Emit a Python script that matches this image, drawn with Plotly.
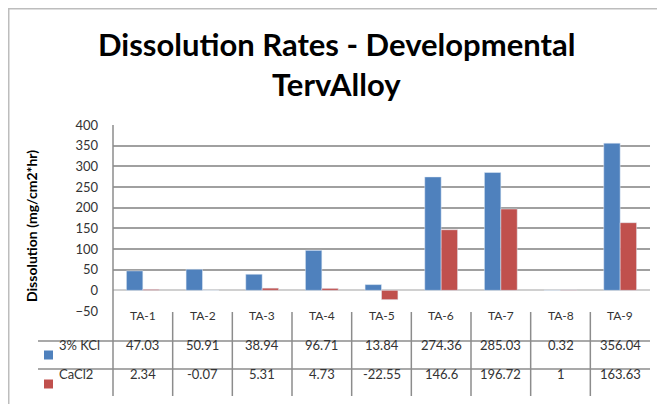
import plotly.graph_objects as go

categories = ["TA-1", "TA-2", "TA-3", "TA-4", "TA-5", "TA-6", "TA-7", "TA-8", "TA-9"]
kcl_name = "3% KCl"
kcl = [47.03, 50.91, 38.94, 96.71, 13.84, 274.36, 285.03, 0.32, 356.04]
cacl_name = "CaCl2"
cacl = [2.34, -0.07, 5.31, 4.73, -22.55, 146.6, 196.72, 1, 163.63]
y_ticks = [-50, 0, 50, 100, 150, 200, 250, 300, 350, 400]
title_lines = ["Dissolution Rates - Developmental", "TervAlloy"]
y_title = "Dissolution (mg/cm2*hr)"

BLUE = "#4F81BD"
RED = "#C0504D"
TXT = "#333333"
FONT = "Lato"

# page has an 8px body margin; work in reference page pixels and shift
OFF = 8
PAGE_W, PAGE_H = 665, 404
W, H = PAGE_W - OFF, PAGE_H - OFF
# plot area in page pixels: x 113..650, y 125..311
PL, PR, PT, PB = 113, 650, 125, 311
L, R, T, B = PL - OFF, W - (PR - OFF), PT - OFF, H - (PB - OFF)
PW, PH = PR - PL, PB - PT


def px(x):
    return (x - PL) / PW


def py(y):
    return (PB - y) / PH


fig = go.Figure()
fig.add_trace(go.Bar(x=categories, y=kcl, name=kcl_name, marker_color=BLUE))
fig.add_trace(go.Bar(x=categories, y=cacl, name=cacl_name, marker_color=RED))

shapes = []
anns = []

# chart area border
shapes.append(dict(type="rect", xref="paper", yref="paper", x0=px(8.5), x1=px(700),
                   y0=py(440), y1=py(8.5), line=dict(color="#BDBDBD", width=2)))
# left axis line through table
shapes.append(dict(type="line", xref="paper", yref="paper", x0=0, x1=0,
                   y0=py(396), y1=1, line=dict(color="#8C8C8C", width=1.5)))
# category dividers in table
for i in range(len(categories) - 1):
    shapes.append(dict(type="line", xref="x", yref="paper", x0=i + 0.5, x1=i + 0.5,
                       y0=py(396), y1=py(312), line=dict(color="#8C8C8C", width=1.5)))
# horizontal table lines
for yy in (341, 369):
    shapes.append(dict(type="line", xref="paper", yref="paper", x0=px(38), x1=1,
                       y0=py(yy), y1=py(yy), line=dict(color="#8C8C8C", width=1.5)))
# legend keys
for yy, col in ((355, BLUE), (384, RED)):
    shapes.append(dict(type="rect", xref="paper", yref="paper", x0=px(44), x1=px(53),
                       y0=py(yy + 4.5), y1=py(yy - 4.5), line=dict(width=0), fillcolor=col))

# title
for txt, yy, sz in ((title_lines[0], 44, 31), (title_lines[1], 84, 31)):
    anns.append(dict(text=f"<b>{txt}</b>", xref="paper", yref="paper", x=px(336), y=py(yy),
                     showarrow=False, xanchor="center", yanchor="middle",
                     font=dict(family=FONT, size=sz, color="#000000")))
# y title
anns.append(dict(text=f"<b>{y_title}</b>", xref="paper", yref="paper", x=px(31), y=py(226),
                 showarrow=False, textangle=-90, xanchor="center", yanchor="middle",
                 font=dict(family=FONT, size=14, color="#000000")))
# table header + values
for i, c in enumerate(categories):
    anns.append(dict(text=c, xref="x", yref="paper", x=i, y=py(325), showarrow=False,
                     font=dict(family=FONT, size=12, color=TXT)))
    anns.append(dict(text=str(kcl[i]), xref="x", yref="paper", x=i, y=py(355), showarrow=False,
                     font=dict(family=FONT, size=13, color=TXT)))
    anns.append(dict(text=str(cacl[i]), xref="x", yref="paper", x=i, y=py(384), showarrow=False,
                     font=dict(family=FONT, size=13, color=TXT)))
for name, yy in ((kcl_name, 355), (cacl_name, 384)):
    anns.append(dict(text=name, xref="paper", yref="paper", x=px(57), y=py(yy), showarrow=False,
                     xanchor="left", font=dict(family=FONT, size=13, color=TXT)))

fig.update_layout(
    width=W, height=H,
    margin=dict(l=L, r=R, t=T, b=B, autoexpand=False),
    paper_bgcolor="white", plot_bgcolor="white",
    showlegend=False,
    barmode="group", bargap=0.45, bargroupgap=0,
    shapes=shapes, annotations=anns,
    font=dict(family=FONT, size=13, color=TXT),
)
fig.update_xaxes(showticklabels=False, showgrid=False, showline=False, zeroline=False,
                 range=[-0.5, len(categories) - 0.5])
fig.update_yaxes(range=[-50, 400], tickvals=y_ticks, showgrid=True, gridcolor="#A0A0A0",
                 gridwidth=1.5, zeroline=True, zerolinecolor="#D0D0D0", zerolinewidth=1.5,
                 showline=False, ticks="", ticklabelstandoff=14,
                 tickfont=dict(family=FONT, size=13, color=TXT))

fig.write_html("out.html")
